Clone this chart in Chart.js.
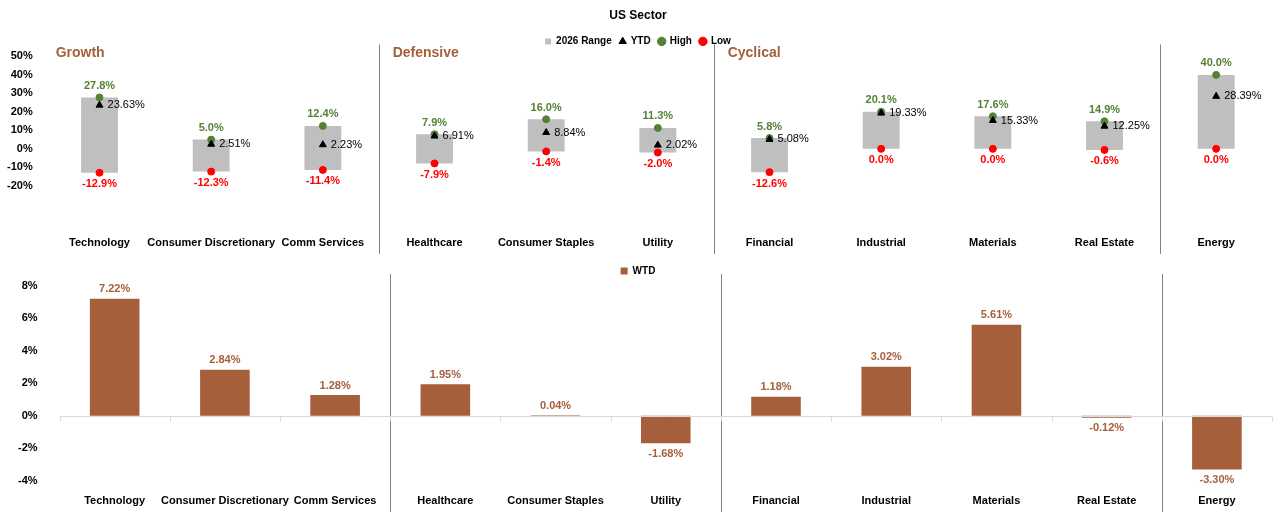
<!DOCTYPE html>
<html><head><meta charset="utf-8">
<script src="https://cdn.jsdelivr.net/npm/chart.js@4"></script>
<style>
body{margin:0;background:#fff;}
#top{position:absolute;left:0;top:0;width:1282px;height:258px;}
#bot{position:absolute;left:0;top:258px;width:1282px;height:258px;}
</style></head><body>
<div id="top"><canvas id="c1"></canvas></div>
<div id="bot"><canvas id="c2"></canvas></div>
<script>
const sectors = ["Technology","Consumer Discretionary","Comm Services","Healthcare","Consumer Staples","Utility","Financial","Industrial","Materials","Real Estate","Energy"];
const highVals = [27.8,5.0,12.4,7.9,16.0,11.3,5.8,20.1,17.6,14.9,40.0];
const lowVals = [-12.9,-12.3,-11.4,-7.9,-1.4,-2.0,-12.6,0.0,0.0,-0.6,0.0];
const ytdVals = [23.63,2.51,2.23,6.91,8.84,2.02,5.08,19.33,15.33,12.25,28.39];
const wtdVals = [7.22,2.84,1.28,1.95,0.04,-1.68,1.18,3.02,5.61,-0.12,-3.30];
const groups = [["Growth",0],["Defensive",3],["Cyclical",6]];
const splitAfter = [2,5,9];

const FONT = "'Liberation Sans', Arial, sans-serif";
Chart.defaults.font.family = FONT;
Chart.defaults.font.size = 11;
Chart.defaults.font.weight = "bold";
Chart.defaults.color = "#000";

const green = "#548235", red = "#ff0000", grey = "#bfbfbf", brown = "#a5603b";

function separators(chart){
  const ctx = chart.ctx, x = chart.scales.x, a = chart.chartArea;
  ctx.save();
  ctx.strokeStyle = "#808080"; ctx.lineWidth = 1;
  splitAfter.forEach(i => {
    const px = Math.round((x.getPixelForValue(i) + x.getPixelForValue(i+1))/2) + 0.5;
    ctx.beginPath(); ctx.moveTo(px, a.top - 12); ctx.lineTo(px, chart.height - 4); ctx.stroke();
  });
  ctx.restore();
}

const topPlugin = {
  id: "topLabels",
  afterDatasetsDraw(chart){
    const ctx = chart.ctx, x = chart.scales.x, y = chart.scales.y, a = chart.chartArea;
    separators(chart);
    ctx.save();
    ctx.font = "bold 14px " + FONT; ctx.fillStyle = brown; ctx.textBaseline = "top";
    groups.forEach(([t,i]) => {
      const left = i === 0 ? a.left + 12 : (x.getPixelForValue(i-1)+x.getPixelForValue(i))/2 + 14;
      ctx.fillText(t, left, a.top - 10);
    });
    ctx.textAlign = "center"; ctx.font = "bold 11px " + FONT;
    sectors.forEach((s,i) => {
      const px = x.getPixelForValue(i);
      ctx.fillStyle = green; ctx.textBaseline = "bottom";
      ctx.fillText(highVals[i].toFixed(1) + "%", px, y.getPixelForValue(highVals[i]) - 6);
      ctx.fillStyle = red; ctx.textBaseline = "top";
      ctx.fillText(lowVals[i].toFixed(1) + "%", px, y.getPixelForValue(lowVals[i]) + 6);
    });
    ctx.textAlign = "left"; ctx.textBaseline = "middle"; ctx.fillStyle = "#000";
    ctx.font = "11px " + FONT;
    sectors.forEach((s,i) => {
      ctx.fillText(ytdVals[i].toFixed(2) + "%", x.getPixelForValue(i) + 8, y.getPixelForValue(ytdVals[i]));
    });
    ctx.restore();
  }
};

const order = [3,0,1,2];
new Chart("c1", {
  type: "bar",
  data: {
    labels: sectors,
    datasets: [
      {type:"line", label:"YTD", data: ytdVals, showLine:false, pointStyle:"triangle", pointRadius:4, backgroundColor:"#000", borderColor:"#000", order:0},
      {type:"line", label:"High", data: highVals, showLine:false, pointStyle:"circle", pointRadius:3.5, backgroundColor:green, borderColor:green, order:1},
      {type:"line", label:"Low", data: lowVals, showLine:false, pointStyle:"circle", pointRadius:3.5, backgroundColor:red, borderColor:red, order:2},
      {label:"2026 Range", data: lowVals.map((l,i)=>[l,highVals[i]]), backgroundColor:grey, barPercentage:0.33, categoryPercentage:1, order:3}
    ]
  },
  options: {
    responsive:true, maintainAspectRatio:false, animation:false,
    layout:{padding:{left:4,right:10,top:0,bottom:2}},
    plugins:{
      title:{display:true, text:"US Sector", font:{size:12,weight:"bold"}, padding:{top:8,bottom:6}},
      legend:{display:true, labels:{usePointStyle:true, boxWidth:6, boxHeight:6, font:{size:10,weight:"bold"}, padding:8,
        sort:(a,b)=>order.indexOf(a.datasetIndex)-order.indexOf(b.datasetIndex),
        generateLabels(chart){
          const l = Chart.defaults.plugins.legend.labels.generateLabels(chart);
          l.forEach(it => { if (it.datasetIndex===3) it.pointStyle = "rect"; });
          return l;
        }}},
      tooltip:{enabled:false}
    },
    scales:{
      x:{grid:{display:false}, border:{display:false}, ticks:{font:{size:11,weight:"bold"}, padding:6, maxRotation:0, autoSkip:false}},
      y:{min:-40, max:50, grid:{display:false}, border:{display:false},
        ticks:{stepSize:10, autoSkip:false, font:{size:11,weight:"bold"}, callback:v => v < -20 ? "" : v + "%"}}
    }
  },
  plugins:[topPlugin]
});

const botPlugin = {
  id: "botLabels",
  afterDatasetsDraw(chart){
    const ctx = chart.ctx, x = chart.scales.x, y = chart.scales.y, a = chart.chartArea;
    separators(chart);
    ctx.save();
    const y0 = Math.round(y.getPixelForValue(0)) + 0.5;
    ctx.strokeStyle = "#d9d9d9"; ctx.lineWidth = 1;
    ctx.beginPath(); ctx.moveTo(a.left, y0); ctx.lineTo(a.right, y0); ctx.stroke();
    for (let i = 0; i <= sectors.length; i++) {
      const px = Math.round(i === 0 ? a.left : i === sectors.length ? a.right : (x.getPixelForValue(i-1)+x.getPixelForValue(i))/2) + 0.5;
      ctx.beginPath(); ctx.moveTo(px, y0); ctx.lineTo(px, y0 + 5); ctx.stroke();
    }
    ctx.font = "bold 11px " + FONT; ctx.fillStyle = brown; ctx.textAlign = "center";
    wtdVals.forEach((v,i) => {
      const px = x.getPixelForValue(i), py = y.getPixelForValue(v);
      if (v >= 0) { ctx.textBaseline = "bottom"; ctx.fillText(v.toFixed(2)+"%", px, py - 4); }
      else { ctx.textBaseline = "top"; ctx.fillText(v.toFixed(2)+"%", px, py + 5); }
    });
    ctx.restore();
  }
};

new Chart("c2", {
  type: "bar",
  data: {
    labels: sectors,
    datasets: [{label:"WTD", data: wtdVals, backgroundColor:brown, barPercentage:0.45, categoryPercentage:1}]
  },
  options: {
    responsive:true, maintainAspectRatio:false, animation:false,
    layout:{padding:{left:4,right:10,top:0,bottom:2}},
    plugins:{
      legend:{display:true, labels:{boxWidth:7, boxHeight:7, font:{size:10,weight:"bold"}, padding:8}},
      tooltip:{enabled:false}
    },
    scales:{
      x:{grid:{display:false}, border:{display:false}, ticks:{font:{size:11,weight:"bold"}, padding:6, maxRotation:0, autoSkip:false}},
      y:{min:-4, max:8, grid:{display:false}, border:{display:false},
        ticks:{stepSize:2, autoSkip:false, font:{size:11,weight:"bold"}, padding:14, callback:v => v + "%"}}
    }
  },
  plugins:[botPlugin]
});
</script>
</body></html>
